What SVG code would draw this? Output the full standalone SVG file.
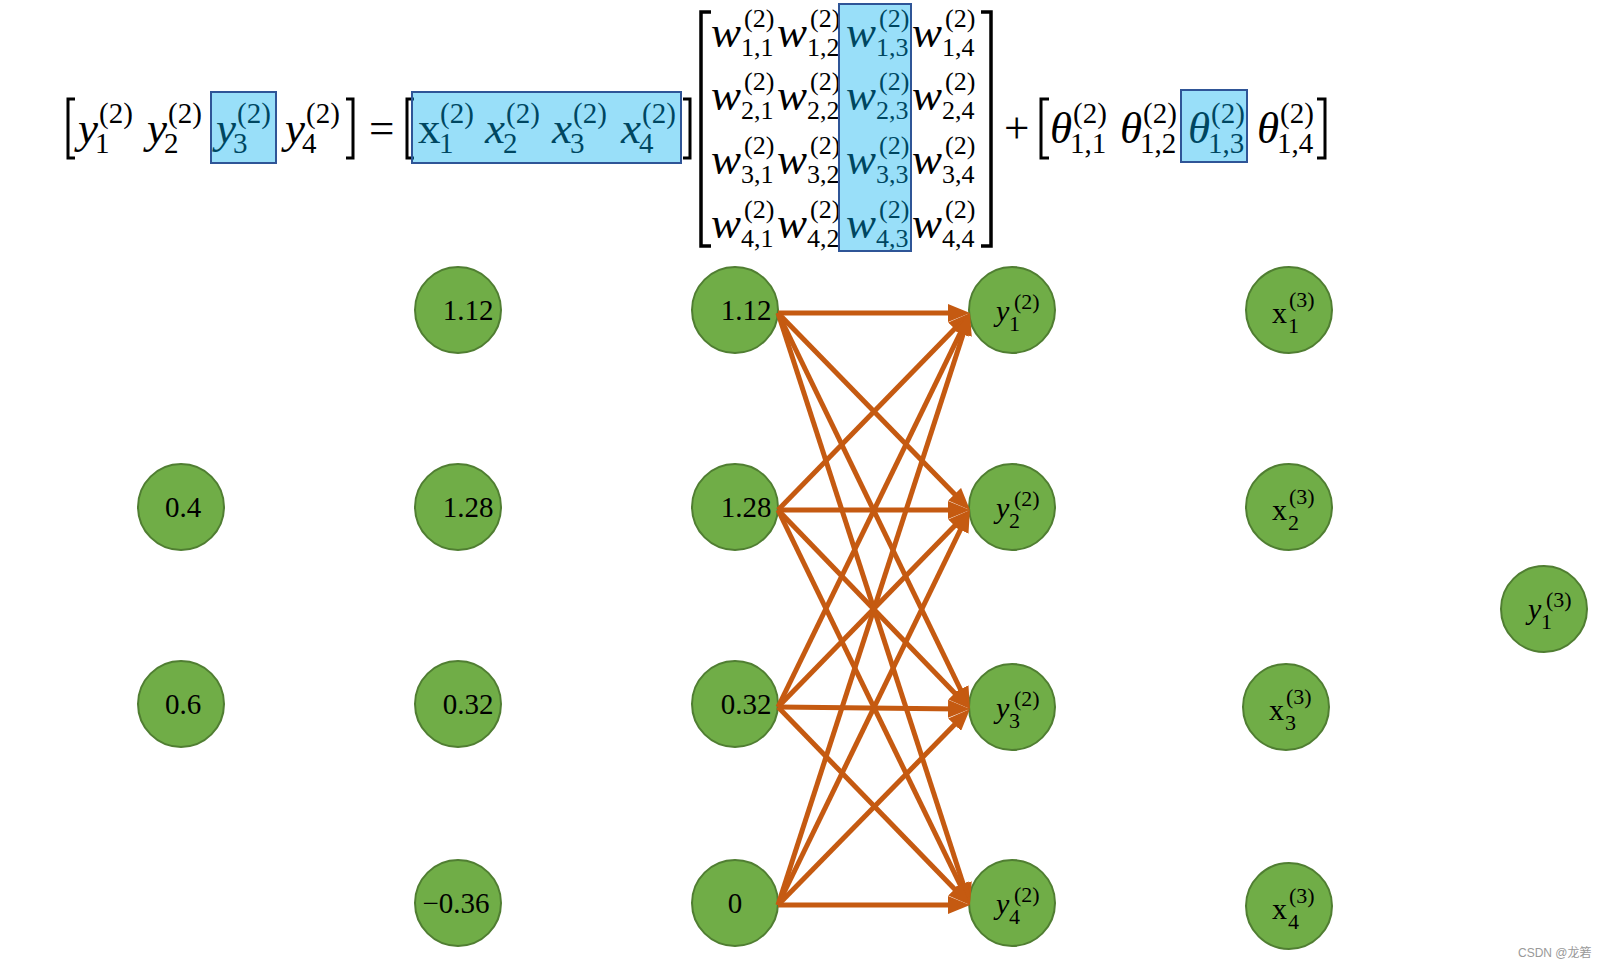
<svg xmlns="http://www.w3.org/2000/svg" width="1601" height="968" viewBox="0 0 1601 968">
<style>
text{font-family:"Liberation Serif","DejaVu Serif",serif;fill:#000}
.mi{font-style:italic;font-size:45px}
.mu{font-size:45px}
.sc{font-size:29px}
.ws{font-size:26px}
.br{fill:none;stroke:#000;stroke-width:3}
.bb{fill:none;stroke:#000;stroke-width:3.5}
.hl{fill:#00B0F0;fill-opacity:0.4;stroke:#2F5597;stroke-width:2}
.node circle{fill:#70AD47;stroke:#507E32;stroke-width:2}
.num{font-size:29px;text-anchor:middle}
.li{font-style:italic;font-size:30px}
.lu{font-size:30px}
.ls{font-size:22px}
.conn line{stroke:#C55A11;stroke-width:5;marker-end:url(#ah)}
.wm{font-family:"Liberation Sans","Noto Sans CJK SC",sans-serif;font-size:12px;fill:#999}
</style>
<defs>
<marker id="ah" markerUnits="userSpaceOnUse" markerWidth="22" markerHeight="18" refX="12" refY="9" orient="auto"><path d="M0,0 L22,9 L0,18 z" fill="#C55A11"/></marker>
</defs>
<rect width="1601" height="968" fill="#fff"/>

<g id="equation">
  <path class="br" d="M75,99 H68 V158 H75"/>
  <g transform="translate(78,143)"><text class="mi">y</text><text class="sc" x="21" y="-20">(2)</text><text class="sc" x="17" y="10">1</text></g>
  <g transform="translate(147,143)"><text class="mi">y</text><text class="sc" x="21" y="-20">(2)</text><text class="sc" x="17" y="10">2</text></g>
  <g transform="translate(216,143)"><text class="mi">y</text><text class="sc" x="21" y="-20">(2)</text><text class="sc" x="17" y="10">3</text></g>
  <g transform="translate(285,143)"><text class="mi">y</text><text class="sc" x="21" y="-20">(2)</text><text class="sc" x="17" y="10">4</text></g>
  <path class="br" d="M346,99 H353 V158 H346"/>
  <text class="mu" x="369" y="143">=</text>
  <path class="br" d="M414,99 H407 V158 H414"/>
  <g transform="translate(418,143)"><text class="mu">x</text><text class="sc" x="22" y="-20">(2)</text><text class="sc" x="21" y="10">1</text></g>
  <g transform="translate(485,143)"><text class="mi">x</text><text class="sc" x="21" y="-20">(2)</text><text class="sc" x="18" y="10">2</text></g>
  <g transform="translate(552,143)"><text class="mi">x</text><text class="sc" x="21" y="-20">(2)</text><text class="sc" x="18" y="10">3</text></g>
  <g transform="translate(621,143)"><text class="mi">x</text><text class="sc" x="21" y="-20">(2)</text><text class="sc" x="18" y="10">4</text></g>
  <path class="br" d="M683,99 H690 V158 H683"/>
  <path class="bb" d="M711,12 H701 V246 H711"/>
  <g transform="translate(711,47)"><text class="mi">w</text><text class="ws" x="33" y="-20">(2)</text><text class="ws" x="30" y="9">1,1</text></g>
  <g transform="translate(777,47)"><text class="mi">w</text><text class="ws" x="33" y="-20">(2)</text><text class="ws" x="30" y="9">1,2</text></g>
  <g transform="translate(846,47)"><text class="mi">w</text><text class="ws" x="33" y="-20">(2)</text><text class="ws" x="30" y="9">1,3</text></g>
  <g transform="translate(912,47)"><text class="mi">w</text><text class="ws" x="33" y="-20">(2)</text><text class="ws" x="30" y="9">1,4</text></g>
  <g transform="translate(711,110)"><text class="mi">w</text><text class="ws" x="33" y="-20">(2)</text><text class="ws" x="30" y="9">2,1</text></g>
  <g transform="translate(777,110)"><text class="mi">w</text><text class="ws" x="33" y="-20">(2)</text><text class="ws" x="30" y="9">2,2</text></g>
  <g transform="translate(846,110)"><text class="mi">w</text><text class="ws" x="33" y="-20">(2)</text><text class="ws" x="30" y="9">2,3</text></g>
  <g transform="translate(912,110)"><text class="mi">w</text><text class="ws" x="33" y="-20">(2)</text><text class="ws" x="30" y="9">2,4</text></g>
  <g transform="translate(711,174)"><text class="mi">w</text><text class="ws" x="33" y="-20">(2)</text><text class="ws" x="30" y="9">3,1</text></g>
  <g transform="translate(777,174)"><text class="mi">w</text><text class="ws" x="33" y="-20">(2)</text><text class="ws" x="30" y="9">3,2</text></g>
  <g transform="translate(846,174)"><text class="mi">w</text><text class="ws" x="33" y="-20">(2)</text><text class="ws" x="30" y="9">3,3</text></g>
  <g transform="translate(912,174)"><text class="mi">w</text><text class="ws" x="33" y="-20">(2)</text><text class="ws" x="30" y="9">3,4</text></g>
  <g transform="translate(711,238)"><text class="mi">w</text><text class="ws" x="33" y="-20">(2)</text><text class="ws" x="30" y="9">4,1</text></g>
  <g transform="translate(777,238)"><text class="mi">w</text><text class="ws" x="33" y="-20">(2)</text><text class="ws" x="30" y="9">4,2</text></g>
  <g transform="translate(846,238)"><text class="mi">w</text><text class="ws" x="33" y="-20">(2)</text><text class="ws" x="30" y="9">4,3</text></g>
  <g transform="translate(912,238)"><text class="mi">w</text><text class="ws" x="33" y="-20">(2)</text><text class="ws" x="30" y="9">4,4</text></g>
  <path class="bb" d="M981,12 H991 V246 H981"/>
  <text class="mu" x="1004" y="143">+</text>
  <path class="br" d="M1049,99 H1041 V158 H1049"/>
  <g transform="translate(1050,143)"><text class="mi">θ</text><text class="sc" x="23" y="-20">(2)</text><text class="sc" x="20" y="10">1,1</text></g>
  <g transform="translate(1120,143)"><text class="mi">θ</text><text class="sc" x="23" y="-20">(2)</text><text class="sc" x="20" y="10">1,2</text></g>
  <g transform="translate(1188,143)"><text class="mi">θ</text><text class="sc" x="23" y="-20">(2)</text><text class="sc" x="20" y="10">1,3</text></g>
  <g transform="translate(1257,143)"><text class="mi">θ</text><text class="sc" x="23" y="-20">(2)</text><text class="sc" x="20" y="10">1,4</text></g>
  <path class="br" d="M1317,99 H1325 V158 H1317"/>
  <rect class="hl" x="211" y="92" width="65" height="71"/>
  <rect class="hl" x="412" y="92" width="269" height="71"/>
  <rect class="hl" x="839" y="4" width="72" height="247"/>
  <rect class="hl" x="1181" y="90" width="66" height="72"/>
</g>

<g id="n-0-4" class="node"><circle cx="181" cy="507" r="43"/><text class="num" x="183" y="517">0.4</text></g>
<g id="n-0-6" class="node"><circle cx="181" cy="704" r="43"/><text class="num" x="183" y="714">0.6</text></g>

<g id="a1" class="node"><circle cx="458" cy="310" r="43"/><text class="num" x="468" y="320">1.12</text></g>
<g id="a2" class="node"><circle cx="458" cy="507" r="43"/><text class="num" x="468" y="517">1.28</text></g>
<g id="a3" class="node"><circle cx="458" cy="704" r="43"/><text class="num" x="468" y="714">0.32</text></g>
<g id="a4" class="node"><circle cx="458" cy="903" r="43"/><text class="num" x="456" y="913">−0.36</text></g>

<g id="x1" class="node"><circle cx="735" cy="310" r="43"/><text class="num" x="746" y="320">1.12</text></g>
<g id="x2" class="node"><circle cx="735" cy="507" r="43"/><text class="num" x="746" y="517">1.28</text></g>
<g id="x3" class="node"><circle cx="735" cy="704" r="43"/><text class="num" x="746" y="714">0.32</text></g>
<g id="x4" class="node"><circle cx="735" cy="903" r="43"/><text class="num" x="735" y="913">0</text></g>

<g id="y1" class="node"><circle cx="1012" cy="310" r="43"/><g transform="translate(1012,310)"><text class="li" x="-16" y="11">y</text><text class="ls" x="2" y="-1">(2)</text><text class="ls" x="-3" y="21">1</text></g></g>
<g id="y2" class="node"><circle cx="1012" cy="507" r="43"/><g transform="translate(1012,507)"><text class="li" x="-16" y="11">y</text><text class="ls" x="2" y="-1">(2)</text><text class="ls" x="-3" y="21">2</text></g></g>
<g id="y3" class="node"><circle cx="1012" cy="707" r="43"/><g transform="translate(1012,707)"><text class="li" x="-16" y="11">y</text><text class="ls" x="2" y="-1">(2)</text><text class="ls" x="-3" y="21">3</text></g></g>
<g id="y4" class="node"><circle cx="1012" cy="903" r="43"/><g transform="translate(1012,903)"><text class="li" x="-16" y="11">y</text><text class="ls" x="2" y="-1">(2)</text><text class="ls" x="-3" y="21">4</text></g></g>

<g id="x3-1" class="node"><circle cx="1289" cy="310" r="43"/><g transform="translate(1289,310)"><text class="lu" x="-17" y="13">x</text><text class="ls" x="0" y="-3">(3)</text><text class="ls" x="-1" y="23">1</text></g></g>
<g id="x3-2" class="node"><circle cx="1289" cy="507" r="43"/><g transform="translate(1289,507)"><text class="lu" x="-17" y="13">x</text><text class="ls" x="0" y="-3">(3)</text><text class="ls" x="-1" y="23">2</text></g></g>
<g id="x3-3" class="node"><circle cx="1286" cy="707" r="43"/><g transform="translate(1286,707)"><text class="lu" x="-17" y="13">x</text><text class="ls" x="0" y="-3">(3)</text><text class="ls" x="-1" y="23">3</text></g></g>
<g id="x3-4" class="node"><circle cx="1289" cy="906" r="43"/><g transform="translate(1289,906)"><text class="lu" x="-17" y="13">x</text><text class="ls" x="0" y="-3">(3)</text><text class="ls" x="-1" y="23">4</text></g></g>

<g id="y3-1" class="node"><circle cx="1544" cy="609" r="43"/><g transform="translate(1544,609)"><text class="li" x="-16" y="10">y</text><text class="ls" x="2" y="-2">(3)</text><text class="ls" x="-3" y="20">1</text></g></g>

<g id="connectors" class="conn">
  <line x1="778" y1="313" x2="960" y2="313"/>
  <line x1="778" y1="510" x2="963" y2="320.2"/>
  <line x1="778" y1="707" x2="965.6" y2="322"/>
  <line x1="778" y1="905" x2="966.9" y2="322.5"/>
  <line x1="778" y1="313" x2="963" y2="502.8"/>
  <line x1="778" y1="510" x2="960" y2="510"/>
  <line x1="778" y1="707" x2="963" y2="517.2"/>
  <line x1="778" y1="905" x2="965.6" y2="519"/>
  <line x1="778" y1="313" x2="965.6" y2="700"/>
  <line x1="778" y1="510" x2="963.1" y2="701.8"/>
  <line x1="778" y1="707" x2="960" y2="708.9"/>
  <line x1="778" y1="905" x2="963" y2="716.1"/>
  <line x1="778" y1="313" x2="966.9" y2="895.5"/>
  <line x1="778" y1="510" x2="965.6" y2="896"/>
  <line x1="778" y1="707" x2="963" y2="897.8"/>
  <line x1="778" y1="905" x2="960" y2="905"/>
</g>

<text class="wm" x="1518" y="957">CSDN @龙箬</text>
</svg>
